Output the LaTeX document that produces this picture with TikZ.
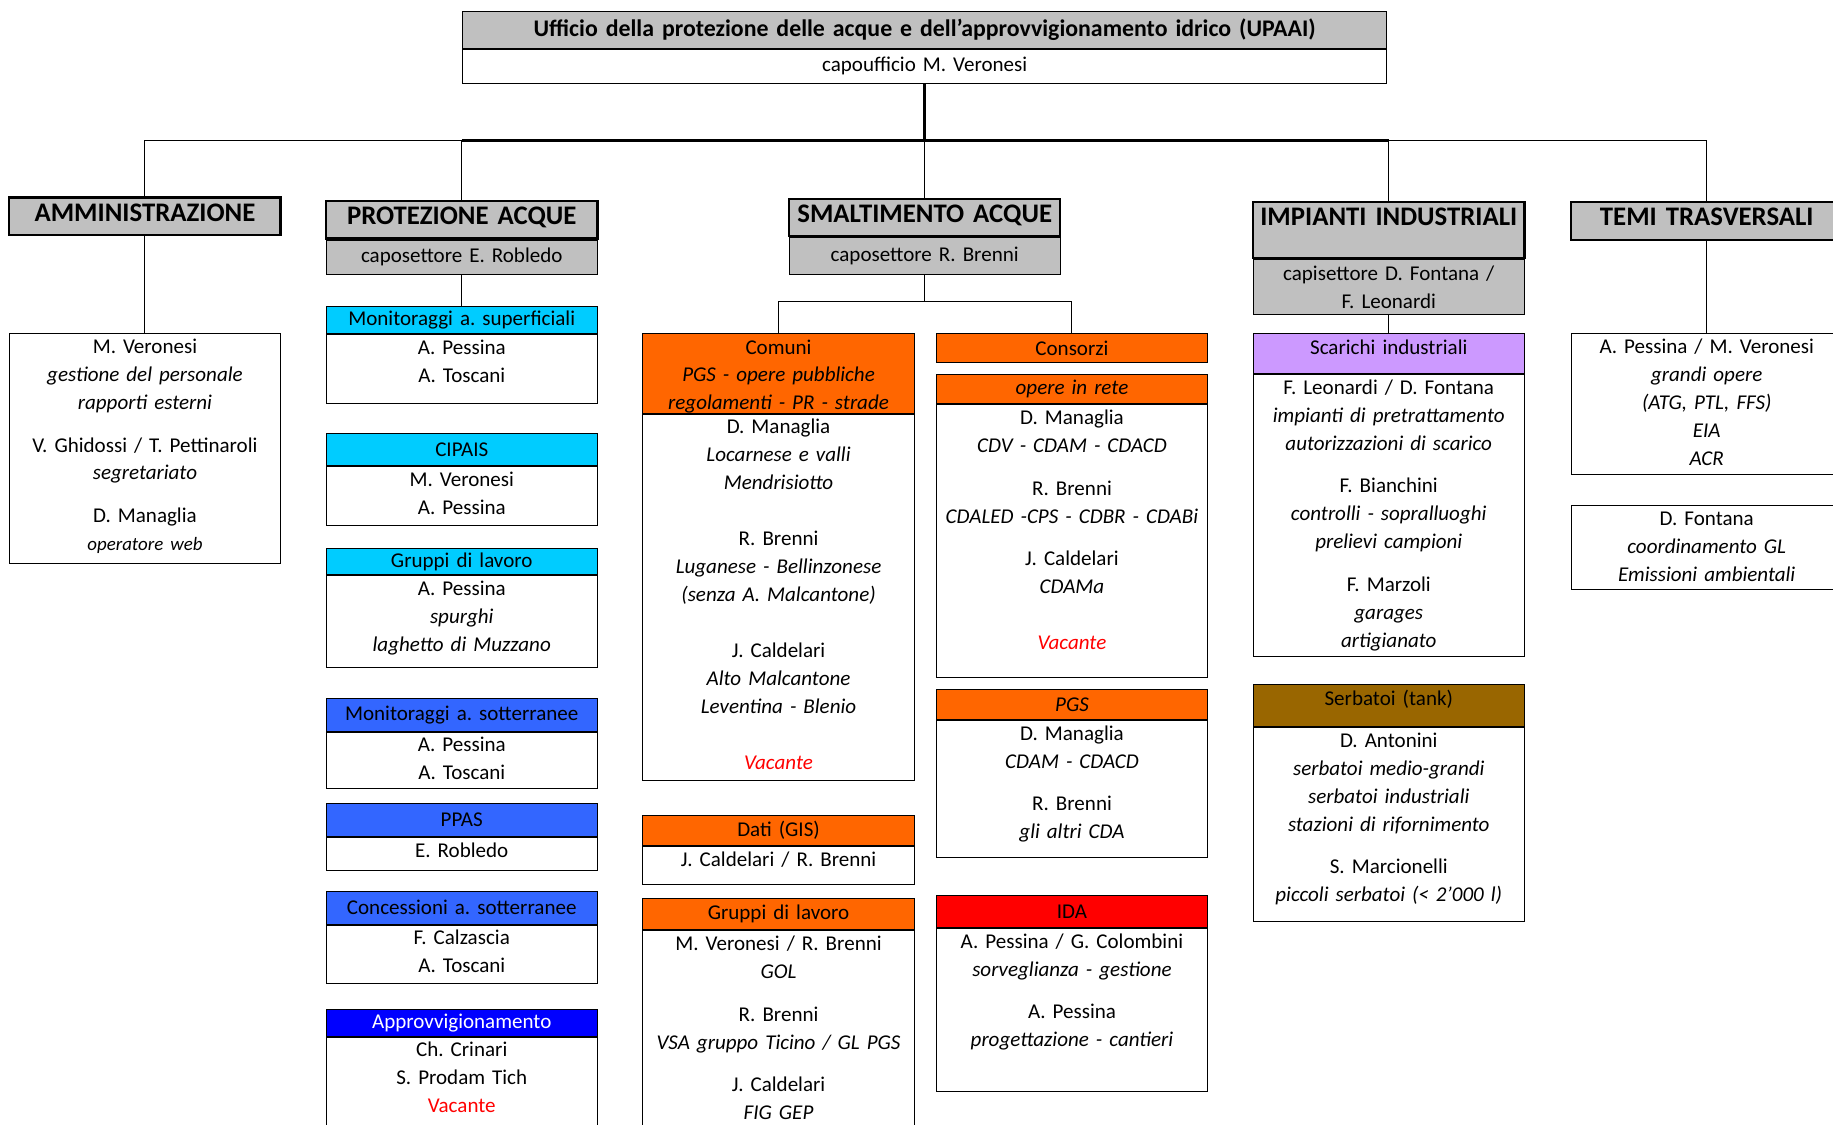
\documentclass[tikz,border=0pt]{standalone}
\usepackage{fontspec}
\setmainfont{Carlito}
\frenchspacing
\definecolor{grigio}{HTML}{C0C0C0}
\definecolor{ciano}{HTML}{00CCFF}
\definecolor{blu}{HTML}{3366FF}
\definecolor{bluscuro}{HTML}{0000FF}
\definecolor{arancio}{HTML}{FF6600}
\definecolor{rosso}{HTML}{FF0000}
\definecolor{lilla}{HTML}{CC99FF}
\definecolor{marrone}{HTML}{996600}
\newcommand{\ruolo}[1]{\textit{#1}}
\newcommand{\vacante}{\textcolor{red}{Vacante}}

\begin{document}
\begin{tikzpicture}[x=0.025cm,y=-0.025cm,
    every node/.style={font=\fontsize{12.8}{17}\selectfont,inner sep=0pt,text width=5.8cm,align=center,anchor=north},
    sector/.style={draw,line width=1.4pt,fill=grigio,text height=14.4pt,text depth=8.4pt,font=\fontsize{16.3}{17}\selectfont\bfseries},
    sub/.style={draw,line width=0.6pt,fill=grigio},
    head/.style={draw,line width=0.6pt,fill=#1},
    body/.style={draw,line width=0.6pt,fill=white,text height=12pt,text depth=#1},
    link/.style={line width=0.6pt},
    spine/.style={line width=1.8pt}]
    \useasboundingbox (0,0) rectangle (1568,962);

    % ufficio
    \node[sub,text width=19.75cm,minimum height=0.8cm,font=\fontsize{14.5}{17}\selectfont\bfseries] at (791,9) (upaai) {Ufficio della protezione delle acque e dell'approvvigionamento idrico (UPAAI)};
    \node[head=white,text width=19.75cm,minimum height=0.725cm] at (upaai.south) (capo) {capoufficio M. Veronesi};

    % settori
    \node[sector] at (124,168) (amm) {AMMINISTRAZIONE};
    \node[sector] at (395,171) (prot) {PROTEZIONE ACQUE};
    \node[sub,minimum height=0.725cm] at (prot.south) (protsub) {caposettore E. Robledo};
    \node[sector] at (791,169) (smalt) {SMALTIMENTO ACQUE};
    \node[sub,minimum height=0.775cm] at (smalt.south) (smaltsub) {caposettore R. Brenni};
    \node[sector,text depth=19.6pt] at (1188,172) (imp) {IMPIANTI INDUSTRIALI};
    \node[sub,minimum height=1.175cm] at (imp.south) (impsub) {capisettore D. Fontana /\\F. Leonardi};
    \node[sector] at (1460,172) (temi) {TEMI TRASVERSALI};

    % amministrazione
    \node[body=128pt] at (124,285) (ammb) {M. Veronesi\\ \ruolo{gestione del personale}\\ \ruolo{rapporti esterni}\\[9pt]
        V. Ghidossi / T. Pettinaroli\\ \ruolo{segretariato}\\[9pt]
        D. Managlia\\ {\fontsize{11.5}{17}\selectfont\ruolo{operatore web}}};

    % protezione acque
    \node[head=ciano,minimum height=0.575cm] at (395,262) (ms) {Monitoraggi a. superficiali};
    \node[body=30pt] at (ms.south) (msb) {A. Pessina\\A. Toscani};
    \node[head=ciano,minimum height=0.7cm] at (395,370) (cip) {CIPAIS};
    \node[body=23.6pt] at (cip.south) (cipb) {M. Veronesi\\A. Pessina};
    \node[head=ciano,minimum height=0.55cm] at (395,469) (glp) {Gruppi di lavoro};
    \node[body=44.2pt] at (glp.south) (glpb) {A. Pessina\\ \ruolo{spurghi}\\ \ruolo{laghetto di Muzzano}};
    \node[head=blu,minimum height=0.7cm] at (395,597) (mso) {Monitoraggi a. sotterranee};
    \node[body=22.1pt] at (mso.south) (msob) {A. Pessina\\A. Toscani};
    \node[head=blu,minimum height=0.7cm] at (395,687) (ppas) {PPAS};
    \node[body=7.9pt] at (ppas.south) (ppasb) {E. Robledo};
    \node[head=blu,minimum height=0.7cm] at (395,762) (conc) {Concessioni a. sotterranee};
    \node[body=23.6pt] at (conc.south) (concb) {F. Calzascia\\A. Toscani};
    \node[head=bluscuro,minimum height=0.575cm,text=white] at (395,863) (appr) {Approvvigionamento};
    \node[body=59pt] at (appr.south) (apprb) {Ch. Crinari\\S. Prodam Tich\\ \vacante};

    % smaltimento acque
    \node[head=arancio,text height=12.4pt,text depth=36pt] at (666,285) (com) {Comuni\\ \ruolo{PGS - opere pubbliche}\\ \ruolo{regolamenti - PR - strade}};
    \node[body=210.6pt] at (com.south) (comb) {D. Managlia\\ \ruolo{Locarnese e valli}\\ \ruolo{Mendrisiotto}\\[17pt]
        R. Brenni\\ \ruolo{Luganese - Bellinzonese}\\ \ruolo{(senza A. Malcantone)}\\[17pt]
        J. Caldelari\\ \ruolo{Alto Malcantone}\\ \ruolo{Leventina - Blenio}\\[17pt]
        \ruolo{\vacante}};
    \node[head=arancio,minimum height=0.65cm] at (666,697) (gis) {Dati (GIS)};
    \node[body=10.8pt] at (gis.south) (gisb) {J. Caldelari / R. Brenni};
    \node[head=arancio,minimum height=0.675cm] at (666,768) (gls) {Gruppi di lavoro};
    \node[body=134pt] at (gls.south) (glsb) {M. Veronesi / R. Brenni\\ \ruolo{GOL}\\[9pt]
        R. Brenni\\ \ruolo{VSA gruppo Ticino / GL PGS}\\[9pt]
        J. Caldelari\\ \ruolo{FIG GEP}};
    \node[head=arancio,minimum height=0.625cm] at (917,285) (cons) {Consorzi};
    \node[head=arancio,minimum height=0.625cm] at (917,320) (rete) {\ruolo{opere in rete}};
    \node[body=153.7pt] at (rete.south) (reteb) {D. Managlia\\ \ruolo{CDV - CDAM - CDACD}\\[9pt]
        R. Brenni\\ \ruolo{CDALED -CPS - CDBR - CDABi}\\[9pt]
        J. Caldelari\\ \ruolo{CDAMa}\\[17pt]
        \ruolo{\vacante}};
    \node[head=arancio,minimum height=0.65cm] at (917,589) (pgs) {\ruolo{PGS}};
    \node[body=71.2pt] at (pgs.south) (pgsb) {D. Managlia\\ \ruolo{CDAM - CDACD}\\[9pt]
        R. Brenni\\ \ruolo{gli altri CDA}};
    \node[head=rosso,minimum height=0.675cm] at (917,766) (ida) {IDA};
    \node[body=86.9pt] at (ida.south) (idab) {A. Pessina / G. Colombini\\ \ruolo{sorveglianza - gestione}\\[9pt]
        A. Pessina\\ \ruolo{progettazione - cantieri}};

    % impianti industriali
    \node[head=lilla,text height=12.6pt,text depth=11.6pt] at (1188,285) (scar) {Scarichi industriali};
    \node[body=159.4pt] at (scar.south) (scarb) {F. Leonardi / D. Fontana\\ \ruolo{impianti di pretrattamento}\\ \ruolo{autorizzazioni di scarico}\\[9pt]
        F. Bianchini\\ \ruolo{controlli - sopralluoghi}\\ \ruolo{prelievi campioni}\\[9pt]
        F. Marzoli\\ \ruolo{garages}\\ \ruolo{artigianato}};
    \node[head=marrone,text height=12.6pt,text depth=13pt] at (1188,585) (serb) {Serbatoi (tank)};
    \node[body=106.1pt] at (serb.south) (serbb) {D. Antonini\\ \ruolo{serbatoi medio-grandi}\\ \ruolo{serbatoi industriali}\\ \ruolo{stazioni di rifornimento}\\[9pt]
        S. Marcionelli\\ \ruolo{piccoli serbatoi (< 2'000 l)}};

    % temi trasversali
    \node[body=73.4pt] at (1460,285) (opere) {A. Pessina / M. Veronesi\\ \ruolo{grandi opere}\\ \ruolo{(ATG, PTL, FFS)}\\ \ruolo{EIA}\\ \ruolo{ACR}};
    \node[body=39.2pt] at (1460,432) (emis) {D. Fontana\\ \ruolo{coordinamento GL}\\ \ruolo{Emissioni ambientali}};

    % collegamenti
    \coordinate (bus) at (791,120);
    \coordinate (fork) at (791,258);
    \draw[spine] (capo.south) -- (bus);
    \draw[link] (amm.north) |- (prot.north |- bus);
    \draw[spine] (prot.north |- bus) -- (imp.north |- bus);
    \draw[link] (imp.north |- bus) -| (temi.north);
    \draw[link] (prot.north) -- (prot.north |- bus);
    \draw[link] (smalt.north) -- (bus);
    \draw[link] (imp.north) -- (imp.north |- bus);
    \draw[link] (amm.south) -- (ammb.north);
    \draw[link] (protsub.south) -- (ms.north);
    \draw[link] (smaltsub.south) -- (fork);
    \draw[link] (com.north) |- (fork) -| (cons.north);
    \draw[link] (impsub.south) -- (scar.north);
    \draw[link] (temi.south) -- (opere.north);
\end{tikzpicture}
\end{document}
